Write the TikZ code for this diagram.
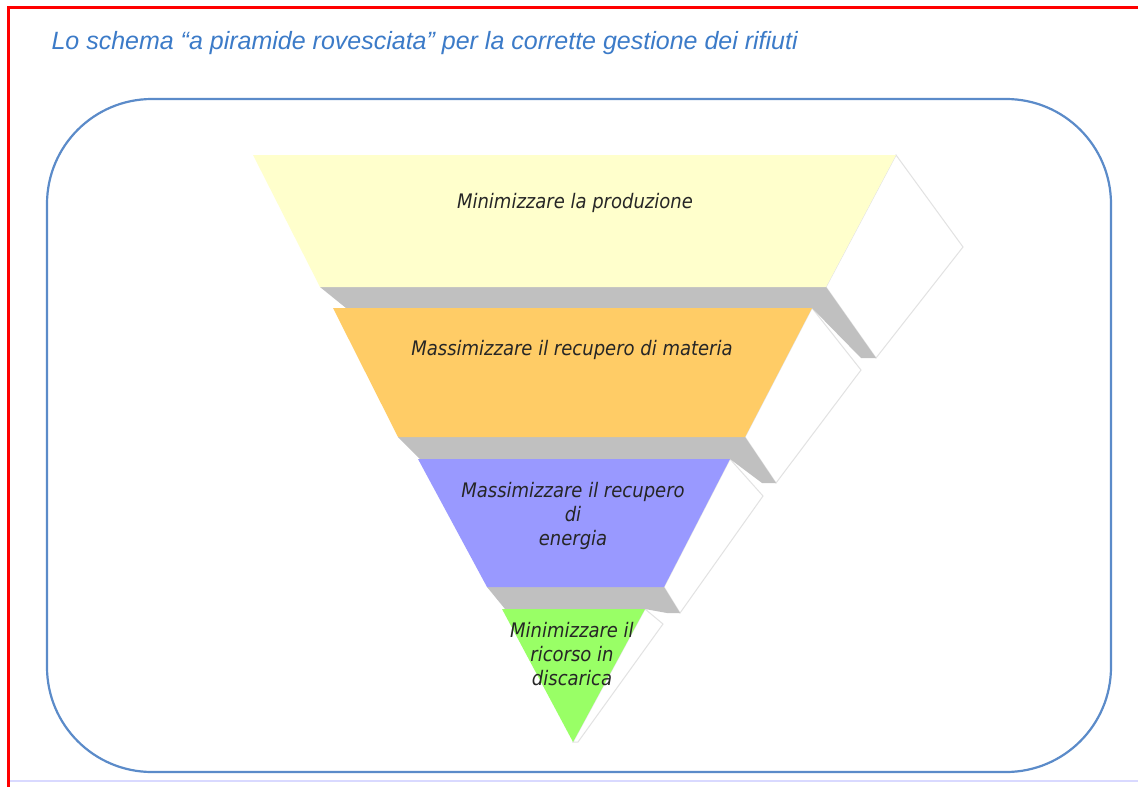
\documentclass[tikz,border=0pt]{standalone}
\usepackage{fontspec}
\setmainfont{Liberation Sans}
\newfontfamily\slabfont{DejaVu Sans Condensed}
\usepackage{tikz}

\definecolor{frameblue}{HTML}{5B8BC9}
\definecolor{titleblue}{HTML}{3C7BC8}
\definecolor{layerone}{HTML}{FFFFCC}
\definecolor{layertwo}{HTML}{FFCC66}
\definecolor{layerthree}{HTML}{9999FF}
\definecolor{layerfour}{HTML}{99FF66}
\definecolor{rimgray}{HTML}{C0C0C0}
\definecolor{sideline}{HTML}{E2E2E2}

\begin{document}
\begin{tikzpicture}[x=1pt,y=-1pt]
        \tikzstyle{rim} = [fill=rimgray]
        \tikzstyle{side} = [fill=white,draw=sideline,line width=1pt]
        \tikzstyle{label} = [font=\slabfont\itshape\fontsize{20}{24}\selectfont,text=black!85,align=center]

        \useasboundingbox (0,0) rectangle (1138,787);
        \fill[white] (0,0) rectangle (1138,787);

        % page border
        \draw[red,line width=3pt] (8,787) -- (8,7) -- (1138,7);
        \draw[blue!15,line width=1.5pt] (10,781) -- (1138,781);

        \node[anchor=base west,font=\itshape\fontsize{25}{28}\selectfont,text=titleblue] (title) at (48,49)
            {Lo schema “a piramide rovesciata” per la corrette gestione dei rifiuti};

        \draw[frameblue,line width=2.2pt,rounded corners=105pt] (47,99) rectangle (1111,772);

        % side faces
        \draw[side] (896,155) -- (963,247) -- (876,358) -- (826,287) -- cycle;
        \draw[side] (812,308) -- (861,370) -- (776,483) -- (745,437) -- cycle;
        \draw[side] (730,459) -- (763,496) -- (680,613) -- (664,587) -- cycle;
        \draw[side] (645,609) -- (663,624) -- (578,742) -- (573,742) -- cycle;

        % grey rims
        \fill[rim] (320,287) -- (826,287) -- (876,358) -- (861,358) -- (812,308) -- (346,308) -- cycle;
        \fill[rim] (398,437) -- (745,437) -- (776,483) -- (762,483) -- (730,459) -- (420,459) -- cycle;
        \fill[rim] (487,587) -- (664,587) -- (680,613) -- (667,613) -- (645,609) -- (505,609) -- cycle;

        % layers
        \fill[layerone] (253,155) -- (896,155) -- (826,287) -- (320,287) -- cycle;
        \fill[layertwo] (333,308) -- (812,308) -- (745,437) -- (398,437) -- cycle;
        \fill[layerthree] (418,459) -- (730,459) -- (664,587) -- (487,587) -- cycle;
        \fill[layerfour] (502,609) -- (645,609) -- (573,742) -- cycle;

        \node[label] (prod) at (575,203) {Minimizzare la produzione};
        \node[label] (materia) at (572,350) {Massimizzare il recupero di materia};
        \node[label] (energia) at (573,516) {Massimizzare il recupero\\di\\energia};
        \node[label] (discarica) at (572,654) {Minimizzare il\\ricorso in\\discarica};
    \end{tikzpicture}
\end{document}
